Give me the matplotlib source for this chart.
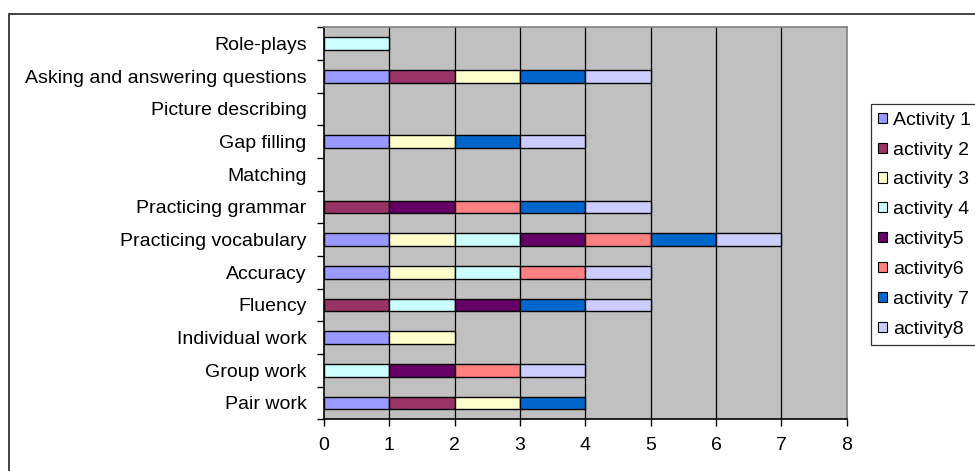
"""Stacked horizontal bar chart: which activities cover each lesson aspect."""
import matplotlib
matplotlib.use("Agg")
import matplotlib.pyplot as plt
from matplotlib.patches import Rectangle
import numpy as np

plt.rcParams["font.family"] = ["Liberation Sans", "DejaVu Sans"]

CATEGORIES = ["Pair work", "Group work", "Individual work", "Fluency", "Accuracy",
              "Practicing vocabulary", "Practicing grammar", "Matching", "Gap filling",
              "Picture describing", "Asking and answering questions", "Role-plays"]

SERIES = ["Activity 1", "activity 2", "activity 3", "activity 4",
          "activity5", "activity6", "activity 7", "activity8"]

activity_1 = [1, 0, 1, 0, 1, 1, 0, 0, 1, 0, 1, 0]
activity_2 = [1, 0, 0, 1, 0, 0, 1, 0, 0, 0, 1, 0]
activity_3 = [1, 0, 1, 0, 1, 1, 0, 0, 1, 0, 1, 0]
activity_4 = [0, 1, 0, 1, 1, 1, 0, 0, 0, 0, 0, 1]
activity_5 = [0, 1, 0, 1, 0, 1, 1, 0, 0, 0, 0, 0]
activity_6 = [0, 1, 0, 0, 1, 1, 1, 0, 0, 0, 0, 0]
activity_7 = [1, 0, 0, 1, 0, 1, 1, 0, 1, 0, 1, 0]
activity_8 = [0, 1, 0, 1, 1, 1, 1, 0, 1, 0, 1, 0]

VALUES = [activity_1, activity_2, activity_3, activity_4,
          activity_5, activity_6, activity_7, activity_8]

COLORS = ["#9999FF", "#993366", "#FFFFCC", "#CCFFFF",
          "#660066", "#FF8080", "#0066CC", "#CCCCFF"]

W, H = 975, 471


def main():
    fig = plt.figure(figsize=(W / 100, H / 100), dpi=100)
    fig.patch.set_facecolor("white")
    ax = fig.add_axes([324 / W, 1 - 419.3 / H, (846.7 - 324) / W, (419.3 - 27.3) / H])
    ax.set_facecolor("#C0C0C0")

    y = np.arange(len(CATEGORIES))
    left = np.zeros(len(CATEGORIES))
    for name, vals, color in zip(SERIES, VALUES, COLORS):
        vals = np.array(vals, dtype=float)
        mask = vals > 0
        ax.barh(y[mask], vals[mask], left=left[mask], height=0.38, color=color,
                edgecolor="black", linewidth=1.0, label=name, zorder=3)
        left += vals

    ax.set_xlim(0, 8)
    ax.set_ylim(-0.5, len(CATEGORIES) - 0.5)
    ax.set_xticks(range(9))
    ax.tick_params(axis="x", direction="out", length=5, width=1, pad=8, labelsize=14)

    # category boundaries carry the tick marks, centres carry the labels
    ax.set_yticks(np.arange(len(CATEGORIES) + 1) - 0.5)
    ax.set_yticklabels([])
    ax.tick_params(axis="y", which="major", direction="out", length=5, width=1)
    ax.set_yticks(y, minor=True)
    ax.set_yticklabels(CATEGORIES, minor=True)
    ax.tick_params(axis="y", which="minor", length=0, pad=12.5, labelsize=14)

    for xv in range(1, 8):
        ax.axvline(xv, color="black", linewidth=0.9, zorder=1)

    ax.spines["left"].set_color("black")
    ax.spines["bottom"].set_color("black")
    ax.spines["top"].set_color("#808080")
    ax.spines["right"].set_color("#808080")
    for s in ax.spines.values():
        s.set_linewidth(1.2)

    leg = fig.legend(loc="upper left", bbox_to_anchor=(870.7 / W, 1 - 104 / H),
                     fontsize=14, frameon=True, fancybox=False, edgecolor="black",
                     handlelength=0.42, handleheight=0.42, handletextpad=0.35,
                     labelspacing=0.66, borderpad=0.4, borderaxespad=0)
    leg.get_frame().set_linewidth(0.9)
    for h in leg.legend_handles:
        h.set_linewidth(0.8)

    fig.patches.append(Rectangle((8.5 / W, -0.1), 1.2, 1.1 - 14 / H,
                                 transform=fig.transFigure, fill=False,
                                 edgecolor="#333333", linewidth=1.3))

    fig.savefig("out.png", dpi=100)
    plt.close(fig)


if __name__ == "__main__":
    main()
